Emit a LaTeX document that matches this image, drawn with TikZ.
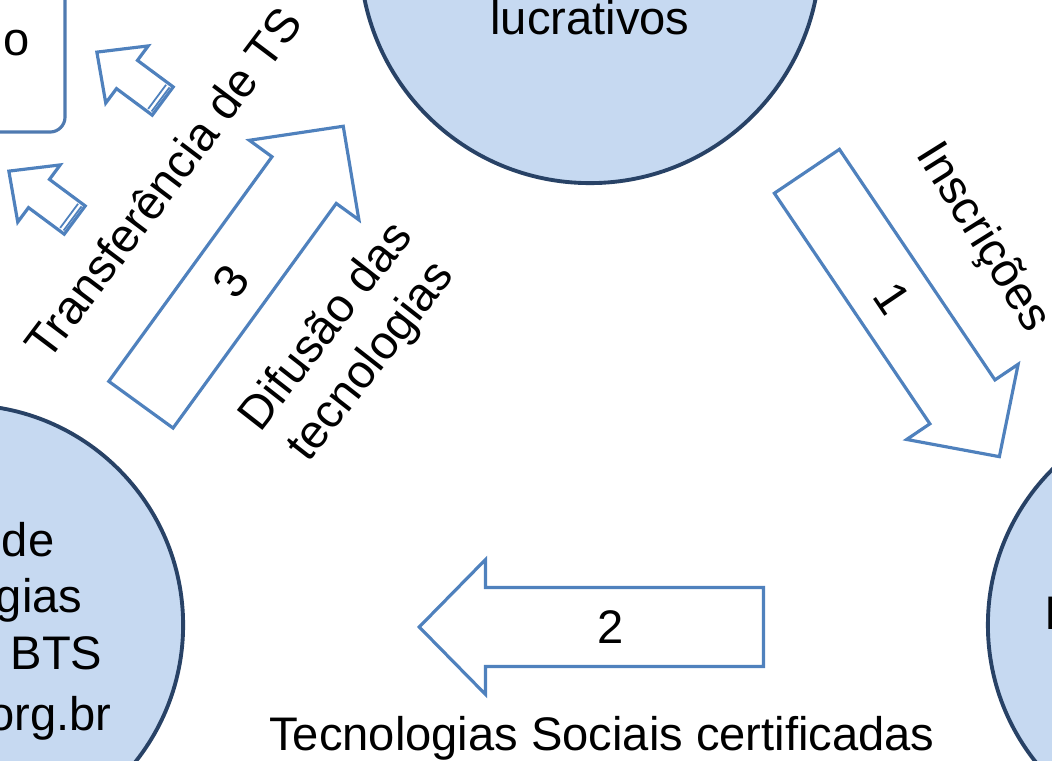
\documentclass[tikz,border=0pt]{standalone}
\usepackage{fontspec}
\setmainfont{Liberation Sans}
\usetikzlibrary{shapes.arrows,calc}
\definecolor{circfill}{RGB}{198,217,241}
\definecolor{circline}{RGB}{40,66,102}
\definecolor{arrline}{RGB}{79,129,189}
\definecolor{boxline}{RGB}{79,122,176}
\tikzset{
  circ/.style={circle, draw=circline, line width=1.1pt, fill=circfill, inner sep=0pt},
  txt/.style={inner sep=0pt, font=\fontsize{13.4}{16.2}\selectfont},
  bigarrow/.style={single arrow, draw=arrline, line width=0.9pt, fill=white, inner xsep=0pt, inner ysep=6.1pt,
    minimum height=3.44cm, minimum width=1.33cm, single arrow head extend=0.28cm, single arrow tip angle=91, font=\fontsize{13.4}{16.2}\selectfont},
  smallarrow/.style={single arrow, draw=arrline, line width=0.9pt, fill=white, inner xsep=0pt, inner ysep=0.16cm,
    minimum height=0.82cm, minimum width=0.68cm, single arrow head extend=0.18cm, single arrow tip angle=87}
}
\begin{document}
\begin{tikzpicture}[x=0.01cm, y=0.01cm]
\useasboundingbox (0,0) rectangle (1052,761);
\clip (0,0) rectangle (1052,761);

% circles
\node[circ, minimum size=4.6cm] (entid) at (590,808) {};
\node[txt, anchor=base] (lucr) at (590,726) {lucrativos};

\node[circ, minimum size=4.4cm] (banco) at (-37,136) {};
\node[txt, anchor=base east] (bl1) at (55,204) {de};
\node[txt, anchor=base east] (bl2) at (83,148) {gias};
\node[txt, anchor=base east] (bl3) at (103,91) {BTS};
\node[txt, anchor=base east] (bl4) at (112,31) {org.br};

\node[circ, minimum size=4.4cm] (certif) at (1208,136) {};
\node[txt, anchor=base west] (cl1) at (1044,131) {I};

% box top left
\node[draw=boxline, line width=0.9pt, rounded corners=0.15cm, fill=white, minimum width=0.96cm, minimum height=1.78cm, txt] (box) at (17,718) {o};

% big arrows
\node[bigarrow, rotate=-56, anchor=tail] (a1) at (806,591) {1};
\node[bigarrow, shape border rotate=180, anchor=tail] (a2) at (765,134) {2};
\node[bigarrow, rotate=54, anchor=tail] (a3) at (140,355) {3};

% small striped arrows
\node[smallarrow, rotate=143.4, anchor=tail] (sa1) at (164,659) {};
\node[smallarrow, rotate=143.4, anchor=tail] (sa2) at (76,540) {};
\foreach \s in {sa1,sa2}{
  \foreach \f in {0.05,0.1}{
    \coordinate (p) at ($(\s.tail)!\f!(\s.tip)$);
    \draw[arrline, line width=0.5pt] ($(p)!0.15cm!90:(\s.tip)$) -- ($(p)!0.15cm!-90:(\s.tip)$);
  }
}

% labels
\node[txt, rotate=-58] (inscr) at (982,523) {Inscrições};
\node[txt, anchor=base] (tsc) at (602,11) {Tecnologias Sociais certificadas};
\node[txt, rotate=52, align=center] (difus) at (350,416) {Difusão das\\tecnologias};
\node[txt, rotate=53] (transf) at (163,578) {Transferência de TS};
\end{tikzpicture}
\end{document}
